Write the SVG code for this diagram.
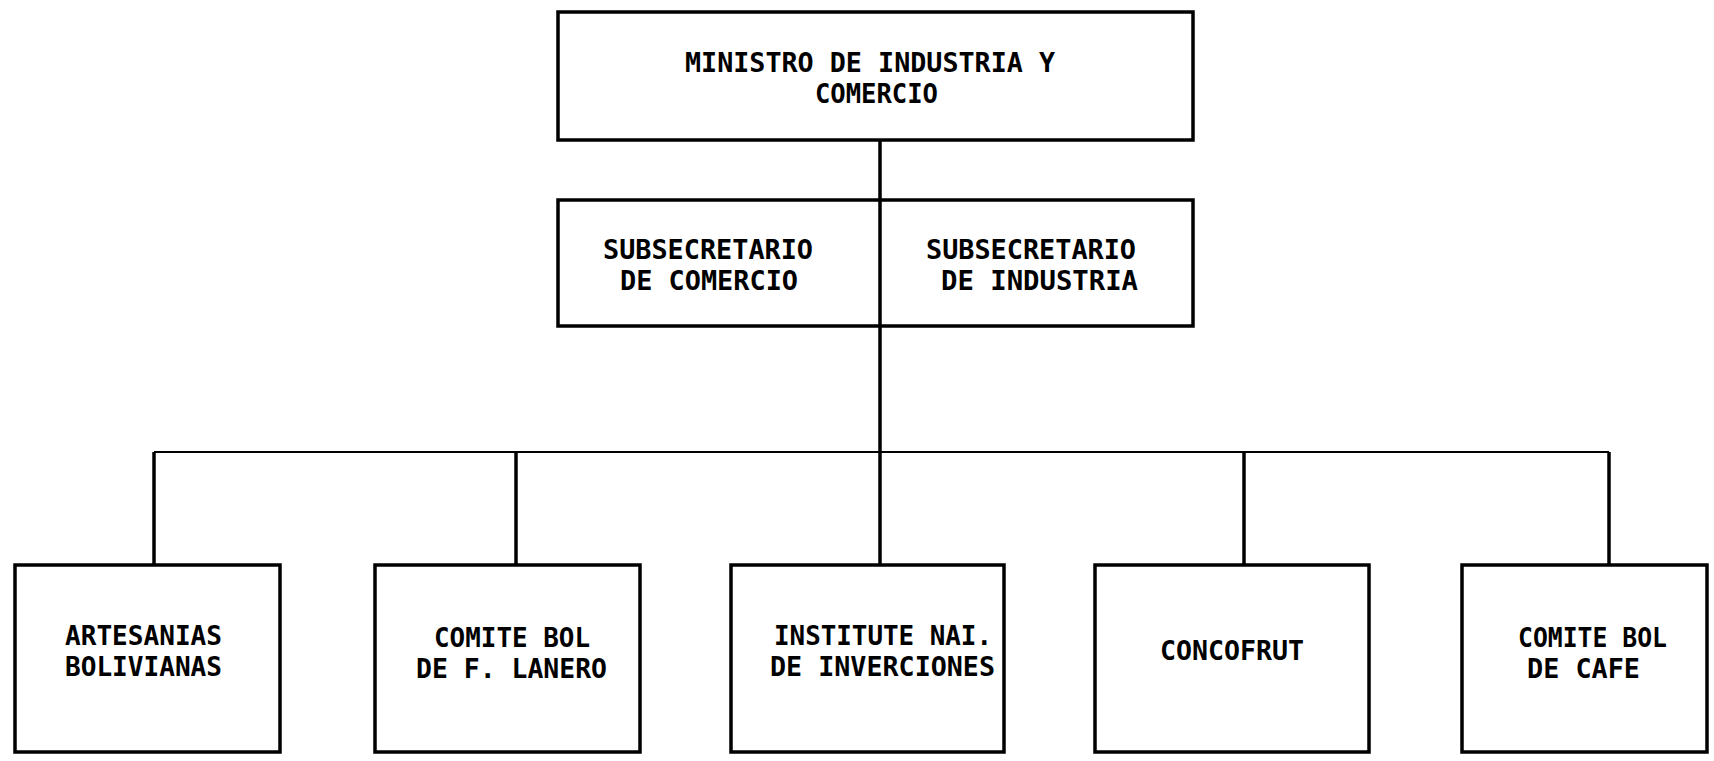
<svg xmlns="http://www.w3.org/2000/svg" width="1714" height="761" viewBox="0 0 1714 761">
<style>
.box{fill:#fff;stroke:#000;stroke-width:3.5}
.ln{stroke:#000;stroke-width:3.5;fill:none}
.hl{stroke:#000;stroke-width:2;fill:none}
text{font-family:"DejaVu Sans Mono","Liberation Mono",monospace;font-weight:bold;font-size:26px;fill:#000}
</style>
<rect width="1714" height="761" fill="#fff"/>
<g id="connectors">
<line class="ln" x1="880" y1="140" x2="880" y2="565"/>
<line class="hl" x1="154" y1="452" x2="1609" y2="452"/>
<line class="ln" x1="154" y1="452" x2="154" y2="565"/>
<line class="ln" x1="516" y1="452" x2="516" y2="565"/>
<line class="ln" x1="1244" y1="452" x2="1244" y2="565"/>
<line class="ln" x1="1609" y1="452" x2="1609" y2="565"/>
</g>
<g id="ministro">
<rect class="box" x="558" y="12" width="635" height="128"/>
<text x="685" y="72" textLength="370" lengthAdjust="spacingAndGlyphs">MINISTRO DE INDUSTRIA Y</text>
<text x="815" y="103" textLength="123" lengthAdjust="spacingAndGlyphs">COMERCIO</text>
</g>
<g id="subsecretarios">
<rect class="box" x="558" y="200" width="635" height="126"/>
<line class="ln" x1="880" y1="200" x2="880" y2="326"/>
<text x="603" y="259" textLength="210" lengthAdjust="spacingAndGlyphs">SUBSECRETARIO</text>
<text x="620" y="290" textLength="178" lengthAdjust="spacingAndGlyphs">DE COMERCIO</text>
<text x="926" y="259" textLength="210" lengthAdjust="spacingAndGlyphs">SUBSECRETARIO</text>
<text x="941" y="290" textLength="197" lengthAdjust="spacingAndGlyphs">DE INDUSTRIA</text>
</g>
<g id="artesanias">
<rect class="box" x="15" y="565" width="265" height="187"/>
<text x="65" y="645" textLength="157" lengthAdjust="spacingAndGlyphs">ARTESANIAS</text>
<text x="65" y="676" textLength="157" lengthAdjust="spacingAndGlyphs">BOLIVIANAS</text>
</g>
<g id="comite-lanero">
<rect class="box" x="375" y="565" width="265" height="187"/>
<text x="434" y="647" textLength="156" lengthAdjust="spacingAndGlyphs">COMITE BOL</text>
<text x="416" y="678" textLength="191" lengthAdjust="spacingAndGlyphs">DE F. LANERO</text>
</g>
<g id="instituto">
<rect class="box" x="731" y="565" width="273" height="187"/>
<text x="774" y="645" textLength="218" lengthAdjust="spacingAndGlyphs">INSTITUTE NAI.</text>
<text x="770" y="676" textLength="225" lengthAdjust="spacingAndGlyphs">DE INVERCIONES</text>
</g>
<g id="concofrut">
<rect class="box" x="1095" y="565" width="274" height="187"/>
<text x="1160" y="660" textLength="144" lengthAdjust="spacingAndGlyphs">CONCOFRUT</text>
</g>
<g id="comite-cafe">
<rect class="box" x="1462" y="565" width="245" height="187"/>
<text x="1518" y="647" textLength="149" lengthAdjust="spacingAndGlyphs">COMITE BOL</text>
<text x="1527" y="678" textLength="113" lengthAdjust="spacingAndGlyphs">DE CAFE</text>
</g>
</svg>
